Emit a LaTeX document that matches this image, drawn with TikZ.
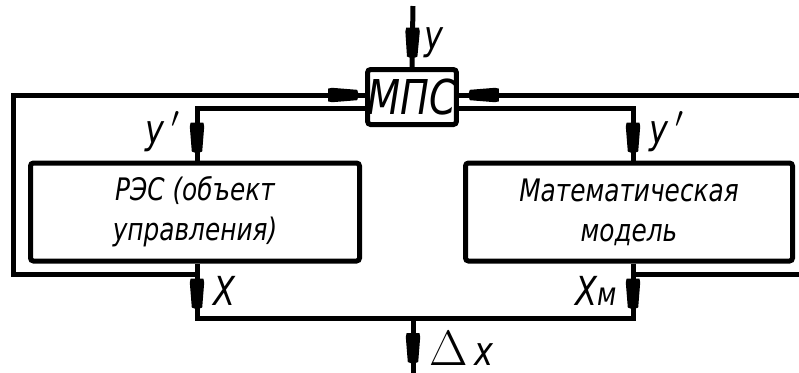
\documentclass[tikz,border=0pt]{standalone}
\usepackage{fontspec}
\newfontfamily\gost[FakeStretch=0.8]{DejaVu Sans}
\usetikzlibrary{decorations.markings, calc}

\begin{document}
\begin{tikzpicture}[
  x=0.5pt, y=-0.5pt, line width=2.5pt,
  blk/.style={draw, rounded corners=1.5pt, inner sep=0pt, align=center,
    font=\gost\itshape\fontsize{15.5}{20}\selectfont},
  lab/.style={font=\gost\itshape\fontsize{20}{22}\selectfont, inner sep=1pt},
  arr/.style={postaction={decorate}, decoration={markings, mark=at position #1 with
    {\fill (-7.5pt,-3.2pt) -- (-5.5pt,-3.6pt) -- (7pt,-2.6pt) -- (7.5pt,-1.25pt)
      -- (7.5pt,1.25pt) -- (7pt,2.6pt) -- (-5.5pt,3.6pt) -- (-7.5pt,3.2pt) -- cycle;}}}
]
\useasboundingbox (0,0) rectangle (799,372);
% blocks
\node[blk, minimum width=43pt, minimum height=27.5pt,
  font=\gost\itshape\fontsize{24}{26}\selectfont] (MPS) at (412,97) {МПС};
\node[blk, minimum width=164.5pt, minimum height=49pt] (RES) at (195,212)
  {РЭС (объект\\управления)};
\node[blk, minimum width=163.5pt, minimum height=49pt] (MM) at (629,212)
  {Математическая\\модель};
% corner points
\coordinate (yin) at (413,6);
\coordinate (inL) at (197,108);
\coordinate (inR) at (633,108);
\coordinate (outLt) at (13,95);
\coordinate (outLb) at (13,274);
\coordinate (outRt) at (812,95);
\coordinate (outRb) at (812,274);
\coordinate (xL) at (197,274);
\coordinate (xR) at (633,274);
\coordinate (botL) at (197,318);
\coordinate (botR) at (633,318);
\coordinate (jn) at (413,318);
\coordinate (dxend) at (413,390);
% connectors
\draw[arr=0.6] (yin) -- node[lab, right=4pt, pos=0.6]{y} (MPS.north);
\draw[arr=-11.5pt] (MPS.west |- inL) -- (inL) -- node[lab, left=6pt, pos=0.45]{y\,$'$} (inL |- RES.north);
\draw[arr=-11.5pt] (MPS.east |- inR) -- (inR) -- node[lab, right=6pt, pos=0.45]{y\,$'$} (inR |- MM.north);
\draw[arr=-11pt] (xL) -- (outLb) -- (outLt) -- (MPS.west |- outLt);
\draw[arr=-12.5pt] (xR) -- (outRb) -- (outRt) -- (MPS.east |- outRt);
\draw[arr=15pt] (xL |- RES.south) -- node[lab, right=6pt]{X} (botL) -- (jn);
\draw[arr=15pt] (xR |- MM.south) -- node[lab, left=6pt]{X{\fontsize{16}{18}\selectfont м}} (botR) -- (jn);
\draw[arr=15pt] (jn) -- node[lab, right=6pt, pos=0.42]{{\fontsize{25}{26}\selectfont$\Delta$}\,x} (dxend);
\end{tikzpicture}
\end{document}
